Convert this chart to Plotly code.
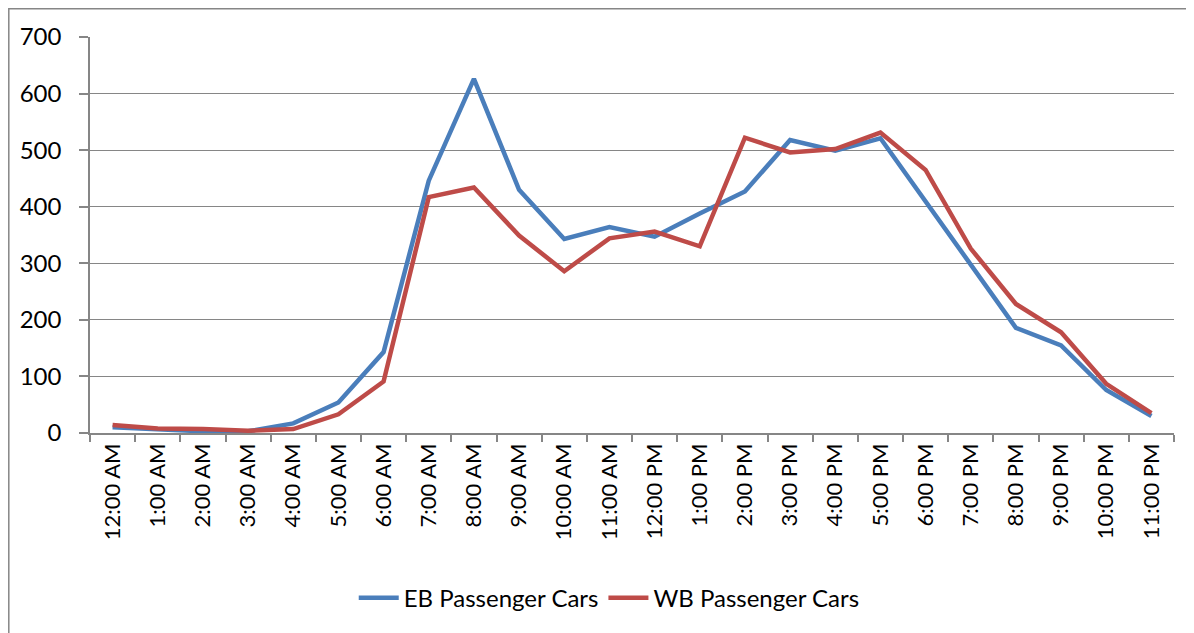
import plotly.graph_objects as go

hours = ["12:00 AM", "1:00 AM", "2:00 AM", "3:00 AM", "4:00 AM", "5:00 AM", "6:00 AM",
         "7:00 AM", "8:00 AM", "9:00 AM", "10:00 AM", "11:00 AM", "12:00 PM", "1:00 PM",
         "2:00 PM", "3:00 PM", "4:00 PM", "5:00 PM", "6:00 PM", "7:00 PM", "8:00 PM",
         "9:00 PM", "10:00 PM", "11:00 PM"]
eb_cars = [10, 6, 3, 3, 17, 54, 143, 446, 626, 430, 343, 364, 347, 388,
           427, 518, 499, 521, 410, 298, 186, 155, 76, 30]
wb_cars = [14, 8, 7, 4, 7, 33, 91, 417, 434, 349, 286, 344, 356, 330,
           522, 496, 502, 531, 465, 326, 228, 178, 87, 35]
y_ticks = [0, 100, 200, 300, 400, 500, 600, 700]

BLUE = "#4A7EBB"
RED = "#BE4B48"
GRAY = "#868686"
FONT = "Lato"

fig = go.Figure()
fig.add_trace(go.Scatter(x=hours, y=eb_cars, mode="lines", name="EB Passenger Cars",
                         line=dict(color=BLUE, width=4.5)))
fig.add_trace(go.Scatter(x=hours, y=wb_cars, mode="lines", name="WB Passenger Cars",
                         line=dict(color=RED, width=4.5)))

# page body has an 8px offset; compensate in the margins
OFF = 8
W, H = 1194, 633
L, R, T, B = 90 - OFF, 20 + OFF, 37 - OFF, 200 + OFF
pw, ph = W - L - R, H - T - B

fig.update_layout(
    width=W, height=H,
    margin=dict(l=L, r=R, t=T, b=B),
    paper_bgcolor="white", plot_bgcolor="white",
    font=dict(family=FONT, size=22, color="black"),
    showlegend=True,
    legend=dict(orientation="h", x=0.479, xanchor="center", y=-0.36, yanchor="top",
                font=dict(family=FONT, size=24, color="black"),
                itemwidth=40, tracegroupgap=0),
    xaxis=dict(type="category", range=[-0.5, 23.5], showgrid=False,
               showline=True, linecolor=GRAY, linewidth=1.5,
               ticks="outside", ticklen=7, tickcolor=GRAY, tickwidth=1.5,
               tickson="boundaries", tickangle=-90,
               tickfont=dict(family=FONT, size=22, color="black")),
    yaxis=dict(range=[0, 700], tickvals=y_ticks, showgrid=True, gridcolor=GRAY, gridwidth=1.2,
               showline=True, linecolor=GRAY, linewidth=1.5, zeroline=False,
               ticks="outside", ticklen=9, tickcolor=GRAY, tickwidth=1.5,
               ticklabelstandoff=13,
               tickfont=dict(family=FONT, size=24, color="black")),
)

# outer chart border (pixel positions in figure coords converted to paper coords)
bx0, by0 = 0.8, 0.8
fig.add_shape(type="rect", xref="paper", yref="paper",
              x0=(bx0 - L) / pw, x1=(W + 5 - L) / pw,
              y0=(T + ph - (H + 5)) / ph, y1=(T + ph - by0) / ph,
              line=dict(color=GRAY, width=1.5), fillcolor="rgba(0,0,0,0)", layer="below")

fig.write_html("out.html")
